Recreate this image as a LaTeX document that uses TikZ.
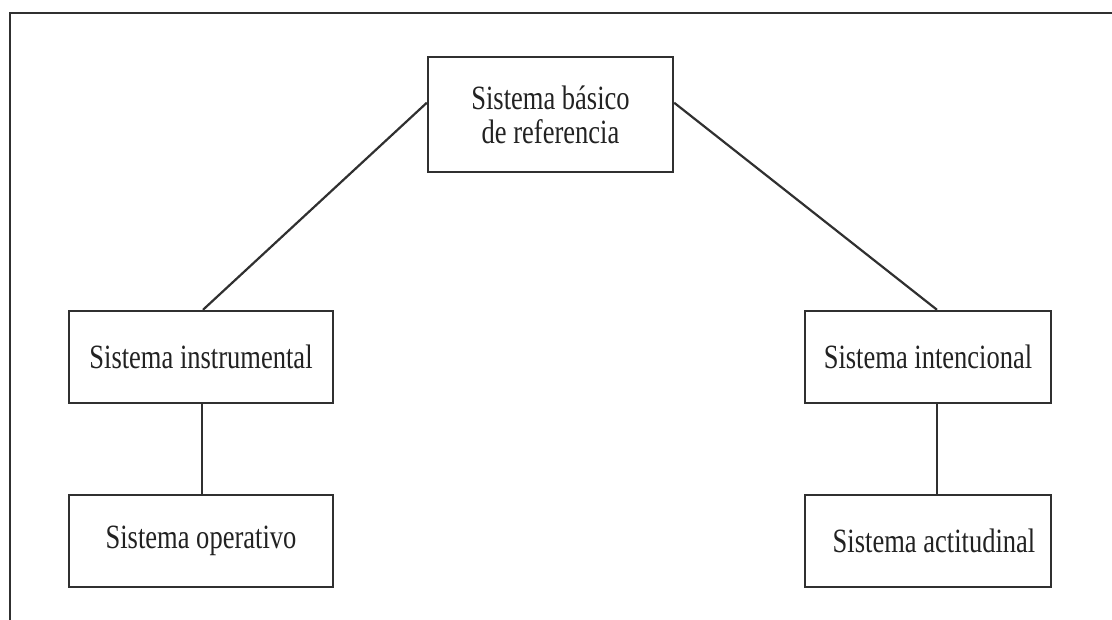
\documentclass[tikz,border=0pt]{standalone}
\usepackage{fontspec}
\setmainfont{Liberation Serif}[FakeStretch=0.78]
\usetikzlibrary{calc}
\definecolor{ink}{HTML}{303030}
\definecolor{txt}{HTML}{222222}
\begin{document}
\begin{tikzpicture}[x=1pt,y=-1pt,
  sysbox/.style={draw=ink,line width=2.4pt,fill=white,inner sep=0pt,
    align=center,text=txt,font=\fontsize{34}{34}\selectfont},
  link/.style={draw=ink,line width=2.2pt}]
  \useasboundingbox (0,0) rectangle (1112,620);
  % open frame: top and left edges only
  \coordinate (fc) at (10,13);
  \coordinate (fr) at (1112,13);
  \coordinate (fb) at (10,620);
  \draw[ink,line width=2.4pt] (fr) -- (fc) -- (fb);
  % boxes
  \node[sysbox,minimum width=245pt,minimum height=115pt,text depth=-11pt] (top) at (550.5,114.5)
    {Sistema básico\\de referencia};
  \node[sysbox,minimum width=264pt,minimum height=92pt] (L1) at (201,357)
    {Sistema instrumental};
  \node[sysbox,minimum width=246pt,minimum height=92pt] (R1) at (928,357)
    {Sistema intencional};
  \node[sysbox,minimum width=264pt,minimum height=92pt] (L2) at (201,541)
    {Sistema operativo};
  \node[sysbox,minimum width=246pt,minimum height=92pt] (R2) at (928,541)
    {\hspace*{12pt}Sistema actitudinal};
  % connectors
  \draw[link] ($(top.north west)!0.4!(top.south west)$) -- ($(L1.north)+(2,0)$);
  \draw[link] ($(top.north east)!0.4!(top.south east)$) -- ($(R1.north)+(9,0)$);
  \draw[link] ($(L1.south)+(1,0)$) -- ($(L2.north)+(1,0)$);
  \draw[link] ($(R1.south)+(9,0)$) -- ($(R2.north)+(9,0)$);
\end{tikzpicture}
\end{document}
